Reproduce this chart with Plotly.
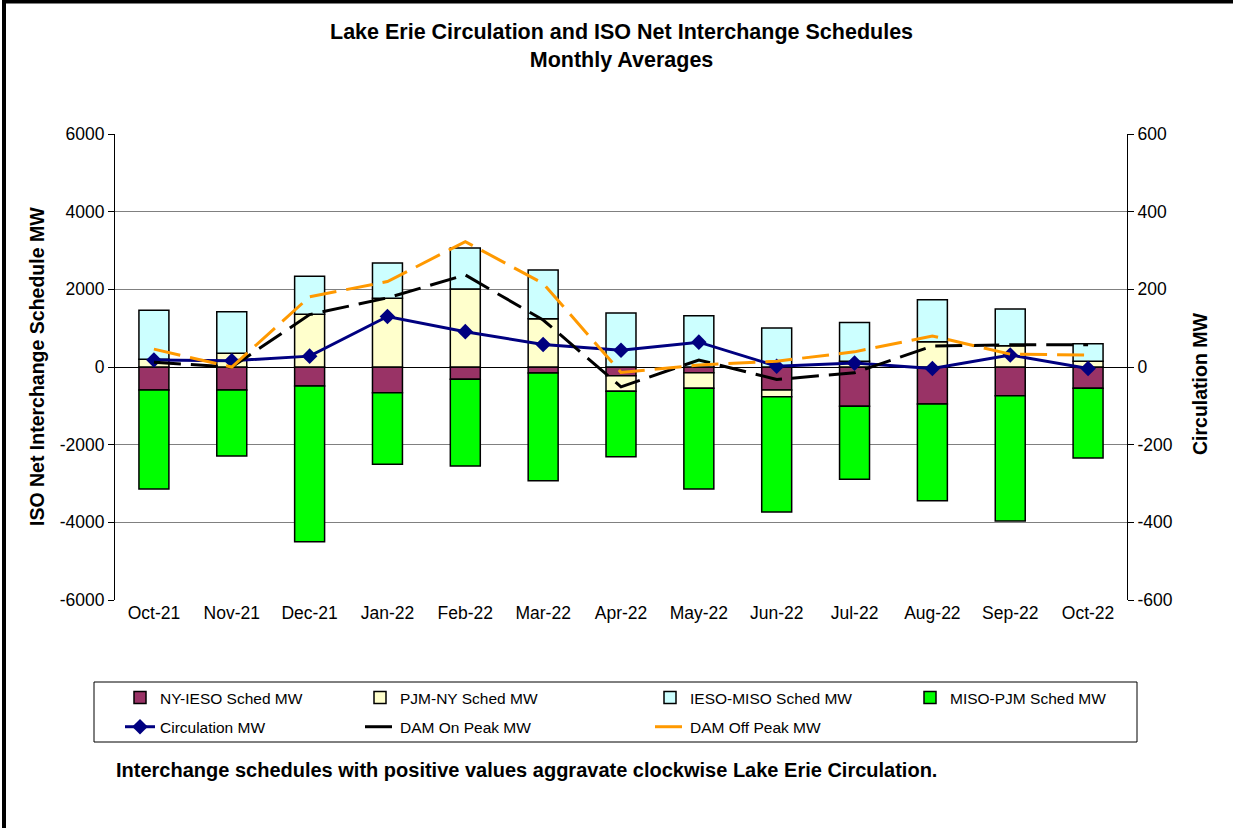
import plotly.graph_objects as go

months = ["Oct-21", "Nov-21", "Dec-21", "Jan-22", "Feb-22", "Mar-22", "Apr-22",
          "May-22", "Jun-22", "Jul-22", "Aug-22", "Sep-22", "Oct-22"]

ny_ieso = [-592, -592, -489, -661, -317, -155, -223, -146, -592, -1013, -953, -738, -549]
pjm_ny = [200, 353, 1357, 1769, 2009, 1244, -403, -403, -172, 150, 652, 549, 146]
ieso_miso = [1262, 1071, 978, 909, 1056, 1254, 1390, 1322, 1004, 996, 1082, 944, 453]
miso_pjm = [-2550, -1700, -4009, -1844, -2232, -2773, -1682, -2592, -2970, -1880, -2489, -3227, -1794]

circulation = [18, 16, 28, 130, 91, 58, 43, 64, 2, 10, -4, 31, -4]
dam_on_peak = [12, 0, 135, 178, 237, 121, -51, 18, -32, -15, 54, 57, 57]
dam_off_peak = [46, 0, 181, 220, 323, 215, -14, 5, 15, 39, 80, 33, 31]

left_ticks = [-6000, -4000, -2000, 0, 2000, 4000, 6000]
right_ticks = [-600, -400, -200, 0, 200, 400, 600]

FONT = "Liberation Sans, Arial, sans-serif"

fig = go.Figure()

bar_specs = [
    ("NY-IESO Sched MW", ny_ieso, "#993366", "legend"),
    ("PJM-NY Sched MW", pjm_ny, "#FFFFCC", "legend2"),
    ("IESO-MISO Sched MW", ieso_miso, "#CCFFFF", "legend3"),
    ("MISO-PJM Sched MW", miso_pjm, "#00FF00", "legend4"),
]
for name, vals, col, lg in bar_specs:
    fig.add_trace(go.Bar(
        x=months, y=vals, name=name,
        marker=dict(color=col, line=dict(color="black", width=1.5)),
        legend=lg, legendgroup=name,
    ))

fig.add_trace(go.Scatter(
    x=months, y=circulation, name="Circulation MW", yaxis="y2",
    mode="lines+markers",
    line=dict(color="#000080", width=3),
    marker=dict(symbol="diamond", size=12, color="#000080"),
    legend="legend", legendgroup="circ",
))
fig.add_trace(go.Scatter(
    x=months, y=dam_on_peak, name="DAM On Peak MW", yaxis="y2",
    mode="lines",
    line=dict(color="black", width=3, dash="27px,10px"),
    legend="legend2", legendgroup="on",
))
fig.add_trace(go.Scatter(
    x=months, y=dam_off_peak, name="DAM Off Peak MW", yaxis="y2",
    mode="lines",
    line=dict(color="#FF9900", width=3, dash="27px,10px"),
    legend="legend3", legendgroup="off",
))

W, H = 1233, 828
L, R, T, B = 115, 1127, 134, 600
pw, ph = R - L, B - T


def px(x):
    return (x - L) / pw


def py(y):
    return (B - y) / ph


def col_legend(text_x):
    return dict(
        orientation="v", x=px(text_x - 40), xanchor="left", y=py(681), yanchor="top",
        bgcolor="rgba(0,0,0,0)", borderwidth=0, font=dict(size=15.5),
        traceorder="grouped", tracegroupgap=6,
    )


fig.update_layout(
    width=W, height=H,
    margin=dict(l=L, r=W - R, t=T, b=H - B),
    paper_bgcolor="white", plot_bgcolor="white",
    font=dict(family=FONT, size=15, color="black"),
    barmode="relative",
    bargap=0.615,
    xaxis=dict(
        type="category", showgrid=False, showline=False, ticks="",
        tickfont=dict(size=17.5), zeroline=False,
        categoryorder="array", categoryarray=months, range=[-0.5, len(months) - 0.5],
    ),
    xaxis2=dict(
        type="category", overlaying="x", anchor="free", position=py(367),
        categoryorder="array", categoryarray=months, range=[-0.5, len(months) - 0.5],
        showgrid=False, showline=False, zeroline=False, showticklabels=False,
        ticks="outside", tickson="boundaries", ticklen=4, tickcolor="#404040",
        tickvals=months,
    ),
    yaxis=dict(
        range=[-6000, 6000], tickvals=left_ticks, ticktext=[str(v) for v in left_ticks],
        showgrid=True, gridcolor="#808080", gridwidth=1,
        zeroline=True, zerolinecolor="black", zerolinewidth=1,
        showline=True, linecolor="black", linewidth=1,
        ticks="outside", ticklen=6, tickcolor="black",
        tickfont=dict(size=17.5),
    ),
    yaxis2=dict(
        range=[-600, 600], tickvals=right_ticks, ticktext=[str(v) for v in right_ticks],
        overlaying="y", side="right", showgrid=False, zeroline=False,
        showline=True, linecolor="black", linewidth=1,
        ticks="outside", ticklen=6, tickcolor="black",
        tickfont=dict(size=17.5),
    ),
    legend=col_legend(160),
    legend2=col_legend(400),
    legend3=col_legend(690),
    legend4=col_legend(950),
    showlegend=True,
)

shapes = [
    # legend box
    dict(type="rect", xref="paper", yref="paper",
         x0=px(94), x1=px(1137), y0=py(742), y1=py(682),
         line=dict(color="black", width=1), fillcolor="rgba(0,0,0,0)", layer="below"),
    # outer frame (left and top)
    dict(type="line", xref="paper", yref="paper",
         x0=px(4), x1=px(4), y0=py(H + 5), y1=py(0),
         line=dict(color="black", width=4)),
    dict(type="line", xref="paper", yref="paper",
         x0=px(2), x1=px(W + 5), y0=py(1.5), y1=py(1.5),
         line=dict(color="black", width=4)),
]
fig.update_layout(shapes=shapes)

annotations = [
    dict(text="<b>Lake Erie Circulation and ISO Net Interchange Schedules<br>Monthly Averages</b>",
         xref="paper", yref="paper", x=0.5, y=py(45.5), xanchor="center", yanchor="middle",
         showarrow=False, font=dict(size=21.5)),
    dict(text="<b>ISO Net Interchange Schedule MW</b>", textangle=-90,
         xref="paper", yref="paper", x=px(37), y=py(367), xanchor="center", yanchor="middle",
         showarrow=False, font=dict(size=19.5)),
    dict(text="<b>Circulation MW</b>", textangle=-90,
         xref="paper", yref="paper", x=px(1200), y=py(384), xanchor="center", yanchor="middle",
         showarrow=False, font=dict(size=19.5)),
    dict(text="<b>Interchange schedules with positive values aggravate clockwise Lake Erie Circulation.</b>",
         xref="paper", yref="paper", x=px(114), y=py(770), xanchor="left", yanchor="middle",
         showarrow=False, font=dict(size=20)),
]
fig.update_layout(annotations=annotations)

fig.write_html("out.html", config={"displayModeBar": False},
               post_script="document.body.style.margin='0px';document.body.style.overflow='hidden';")
